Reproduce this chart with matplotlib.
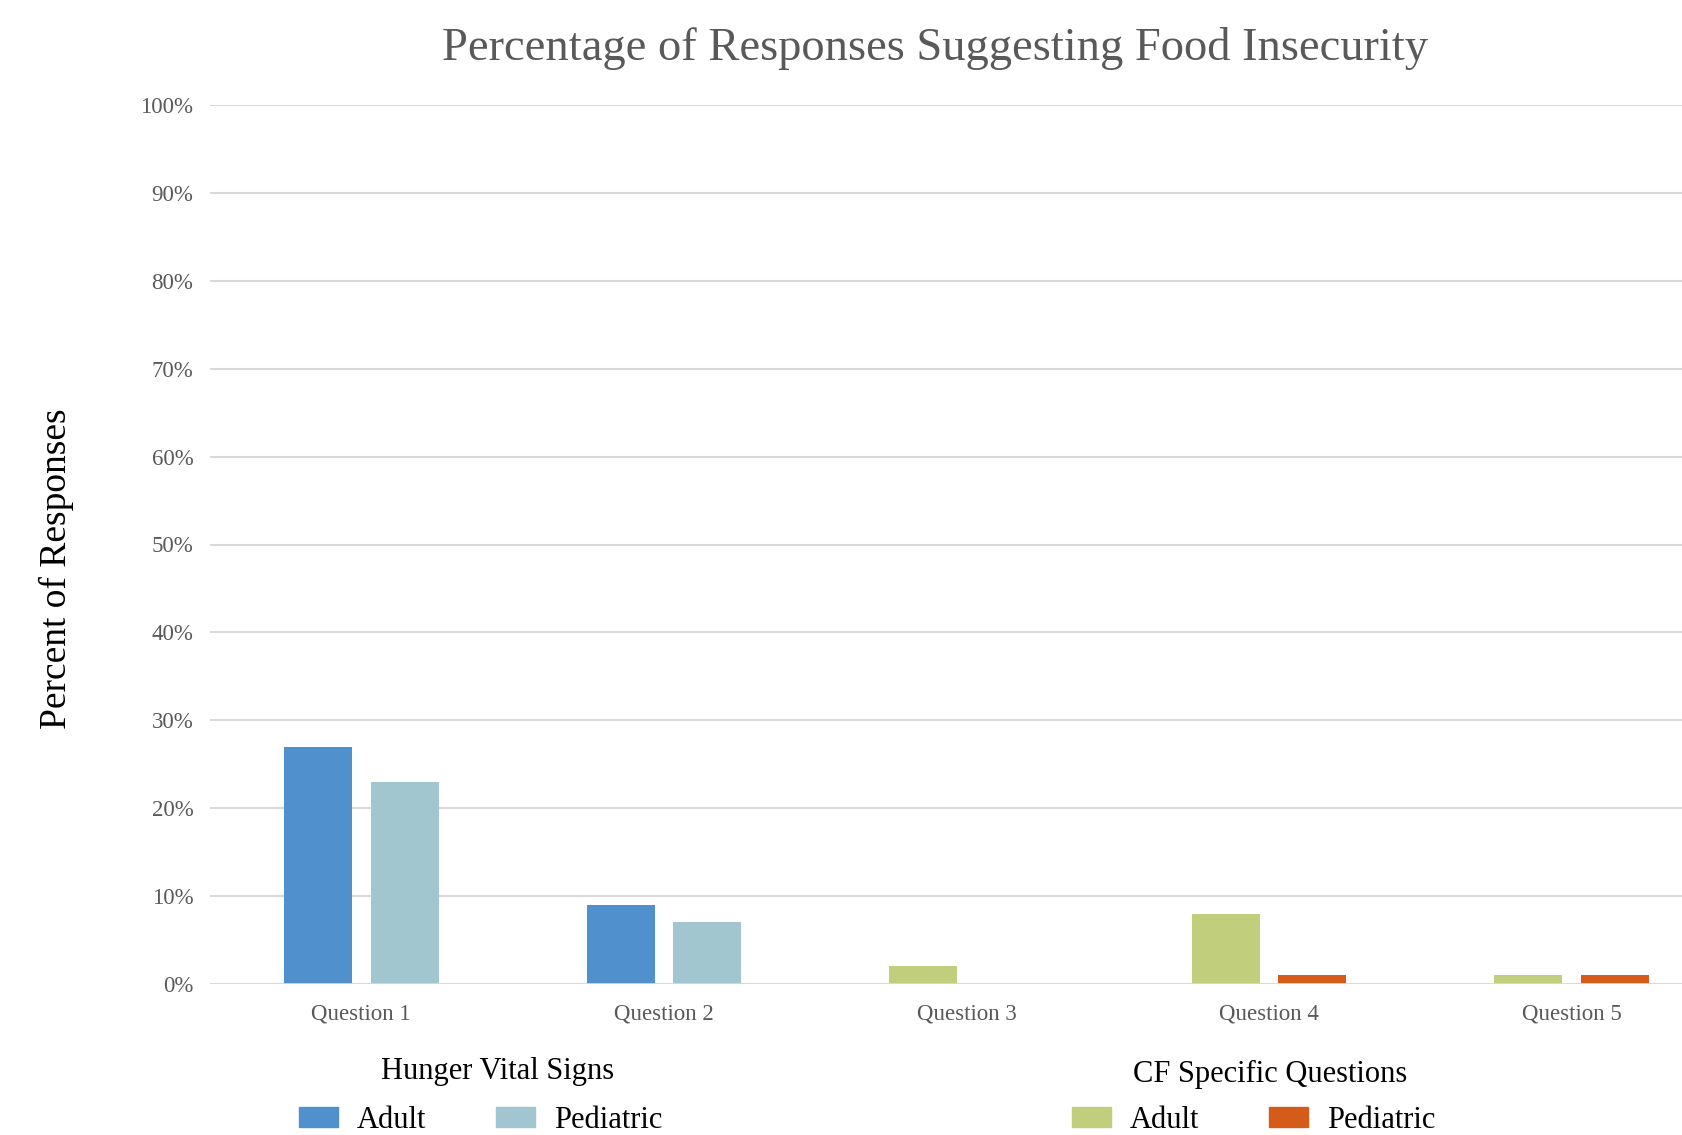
import matplotlib.pyplot as plt
import numpy as np
from matplotlib.patches import Patch

plt.rcParams['font.family'] = ['Liberation Serif', 'DejaVu Serif']

questions = ["Question 1", "Question 2", "Question 3", "Question 4", "Question 5"]
adult = [27, 9, 2, 8, 1]
pediatric = [23, 7, 0, 1, 1]
# first two questions are Hunger Vital Signs, the rest CF specific
group = ["hvs", "hvs", "cf", "cf", "cf"]

colors = {
    ("hvs", "adult"): "#5090CD",
    ("hvs", "ped"): "#A2C6CF",
    ("cf", "adult"): "#C1CF7C",
    ("cf", "ped"): "#D55B1A",
}

W, H = 1682, 1135
fig = plt.figure(figsize=(W / 100, H / 100), dpi=100)
# axes runs past the right edge, like the original (clipped chart)
ax = fig.add_axes([210 / W, 151 / H, 1513 / W, 879 / H])

x = np.arange(len(questions))
bw = 0.225
off = 0.143
adult_cols = [colors[(g, "adult")] for g in group]
ped_cols = [colors[(g, "ped")] for g in group]
ax.bar(x - off, adult, bw, color=adult_cols, zorder=3)
ax.bar(x + off, pediatric, bw, color=ped_cols, zorder=3)

ax.set_xlim(-0.5, len(questions) - 0.5)
ax.set_ylim(0, 100)
ax.set_yticks(np.arange(0, 101, 10))
ax.set_yticklabels([f"{v}%" for v in range(0, 101, 10)])
ax.set_xticks(x)
ax.set_xticklabels(questions)
ax.grid(axis="y", color="#D9D9D9", linewidth=1.5, zorder=0)
ax.axhline(0, color="#D9D9D9", linewidth=2, zorder=4)
for s in ax.spines.values():
    s.set_visible(False)
ax.tick_params(length=0, colors="#595959", labelsize=16.5)
ax.tick_params(axis="y", pad=12)
ax.tick_params(axis="x", pad=14)

fig.text(935 / W, 1 - 48 / H, "Percentage of Responses Suggesting Food Insecurity",
         ha="center", va="center", fontsize=33.5, color="#595959")
fig.text(56 / W, 1 - 569 / H, "Percent of Responses", rotation=90,
         ha="center", va="center", fontsize=27, color="black")

# group legends
fig.text(498 / W, 1 - 1071 / H, "Hunger Vital Signs", ha="center", va="center",
         fontsize=22, color="black")
fig.text(1270 / W, 1 - 1074 / H, "CF Specific Questions", ha="center", va="center",
         fontsize=22, color="black")

leg_kw = dict(frameon=False, ncol=2, fontsize=22, borderpad=0, borderaxespad=0,
              handlelength=1.27, handleheight=0.62, handletextpad=0.62,
              columnspacing=2.3, loc="center left")
h1 = [Patch(color=colors[("hvs", "adult")], label="Adult"),
      Patch(color=colors[("hvs", "ped")], label="Pediatric")]
h2 = [Patch(color=colors[("cf", "adult")], label="Adult"),
      Patch(color=colors[("cf", "ped")], label="Pediatric")]
l1 = fig.legend(handles=h1, bbox_to_anchor=(299 / W, 1 - 1120 / H), **leg_kw)
l2 = fig.legend(handles=h2, bbox_to_anchor=(1072 / W, 1 - 1120 / H), **leg_kw)

fig.savefig("out.png", dpi=100)
